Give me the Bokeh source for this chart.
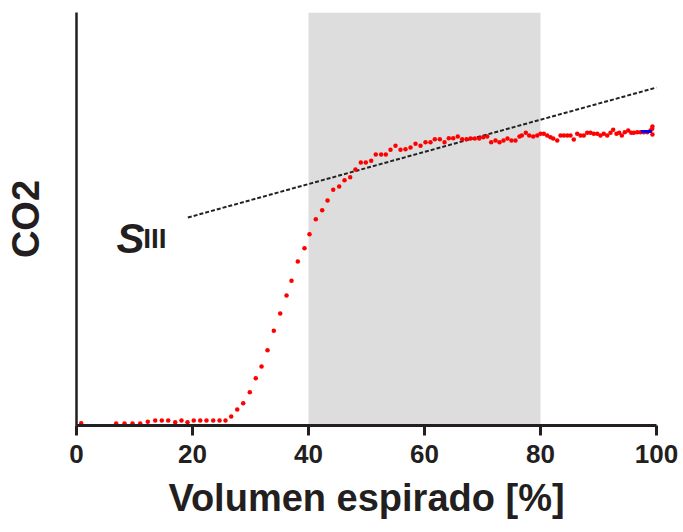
from bokeh.plotting import figure
from bokeh.models import Range1d, BoxAnnotation, Label, FixedTicker
from bokeh.embed import file_html
from bokeh.resources import INLINE

# expired volume [%] and CO2 (arbitrary units)
volume = [0.81, 6.84, 8.28, 9.66, 10.98, 12.29, 13.57, 14.71, 15.81, 17.02, 18.10, 19.14,
          20.22, 21.33, 22.41, 23.57, 24.66, 25.69, 26.67, 27.71, 28.74, 29.88, 30.91, 31.90,
          32.93, 34.02, 35.12, 36.21, 37.07, 38.16, 39.31, 40.17, 41.26, 42.36, 43.28, 44.26,
          45.29, 46.21, 47.19, 48.10, 49.02, 49.88, 50.81, 51.60, 52.53, 53.33, 54.14, 55.00,
          55.86, 56.72, 57.59, 58.45, 59.31, 60.17, 61.03, 61.78, 62.64, 63.45, 64.19, 64.95,
          65.74, 66.50, 67.24, 67.93, 68.67, 69.43, 70.12, 70.81, 71.50, 72.24, 72.93, 73.62,
          74.31, 75.00, 75.69, 76.38, 76.78, 77.47, 78.05, 78.74, 79.43, 80.00, 80.57, 81.16,
          81.72, 82.19, 82.88, 83.45, 84.02, 84.60, 85.17, 85.74, 86.33, 86.90, 87.47, 88.05,
          88.62, 89.19, 89.78, 90.34, 90.91, 91.50, 92.07, 92.53, 93.10, 93.57, 94.02, 94.53,
          95.12, 95.64, 96.09, 96.67, 97.24, 97.81, 98.40, 98.97, 99.26, 99.30, 99.30]
co2 = [0.23, 0.20, 0.20, 0.20, 0.20, 0.38, 0.51, 0.51, 0.51, 0.34, 0.51, 0.34,
       0.51, 0.51, 0.51, 0.51, 0.51, 0.51, 0.92, 1.63, 2.27, 3.39, 4.81, 6.00,
       7.66, 9.63, 11.39, 13.22, 14.72, 16.68, 18.03, 19.45, 20.98, 21.90, 22.88, 23.97,
       24.31, 24.95, 25.25, 26.03, 26.75, 26.75, 26.92, 27.56, 27.56, 27.56, 28.04, 28.45,
       28.04, 28.10, 28.27, 28.65, 28.45, 28.81, 28.81, 29.12, 29.12, 28.81, 29.22, 29.22,
       29.39, 29.12, 29.12, 29.19, 29.19, 29.19, 29.32, 29.39, 28.81, 28.98, 28.81, 28.98,
       29.19, 28.98, 28.98, 29.39, 29.49, 29.77, 29.49, 29.39, 29.49, 29.66, 29.66, 29.49,
       29.32, 29.19, 28.98, 29.49, 29.49, 29.49, 29.49, 29.08, 29.66, 29.49, 29.49, 29.77,
       29.77, 29.66, 29.66, 29.49, 29.66, 29.49, 29.77, 30.07, 29.66, 29.77, 29.49, 29.83,
       30.00, 29.77, 29.77, 29.83, 29.83, 29.83, 29.83, 30.00, 30.17, 30.40, 29.60]

# phase III slope line (S_III)
slope_x = [19.2, 100.0]
slope_y = [21.15, 34.37]

# end-tidal marker
etco2_x = [97.3, 99.2]
etco2_y = [29.9, 29.9]

# shaded window of expired volume
window = (40, 80)

x_ticks = [0, 20, 40, 60, 80, 100]

INK = "#231f20"
FONT = "Liberation Sans"

p = figure(width=683, height=532, output_backend="svg", toolbar_location=None,
           x_range=Range1d(0, 100), y_range=Range1d(0, 42),
           min_border_left=76, min_border_right=27, min_border_top=12, min_border_bottom=107)
p.outline_line_color = None
p.grid.visible = False
p.background_fill_color = "white"

p.add_layout(BoxAnnotation(left=window[0], right=window[1], fill_color="#dddddd",
                           fill_alpha=1.0, line_color=None, level="underlay"))

p.line(slope_x, slope_y, line_color="#222222", line_width=2, line_dash="4 2")
p.scatter(volume, co2, size=4.5, color="#ff0000", line_color=None)
p.line(etco2_x, etco2_y, line_color="#0000ff", line_width=3)

p.add_layout(Label(x=6.9, y=19.0, text="S", text_font=FONT,
                   text_font_style="bold italic", text_font_size="42px",
                   text_color=INK, text_baseline="alphabetic"))
p.add_layout(Label(x=11.5, y=19.0, text="III", text_font=FONT,
                   text_font_style="bold", text_font_size="28px",
                   text_color=INK, text_baseline="alphabetic"))

xa = p.xaxis[0]
xa.ticker = FixedTicker(ticks=x_ticks)
xa.minor_tick_line_color = None
xa.axis_line_width = 3
xa.axis_line_color = INK
xa.major_tick_line_width = 3
xa.major_tick_line_color = INK
xa.major_tick_in = 0
xa.major_tick_out = 10
xa.major_label_text_font = FONT
xa.major_label_text_font_style = "bold"
xa.major_label_text_font_size = "26px"
xa.major_label_text_color = INK
xa.major_label_standoff = 9
xa.axis_label = "Volumen espirado [%]"
xa.axis_label_text_font = FONT
xa.axis_label_text_font_style = "bold"
xa.axis_label_text_font_size = "38px"
xa.axis_label_text_color = INK
xa.axis_label_standoff = 11

ya = p.yaxis[0]
ya.ticker = FixedTicker(ticks=[])
ya.minor_tick_line_color = None
ya.major_tick_line_color = None
ya.major_label_text_font_size = "0px"
ya.axis_line_width = 2.5
ya.axis_line_color = INK
ya.axis_label = "CO2"
ya.axis_label_text_font = FONT
ya.axis_label_text_font_style = "bold"
ya.axis_label_text_font_size = "38px"
ya.axis_label_text_color = INK
ya.axis_label_standoff = 30

open("out.html", "w").write(file_html(p, INLINE))
